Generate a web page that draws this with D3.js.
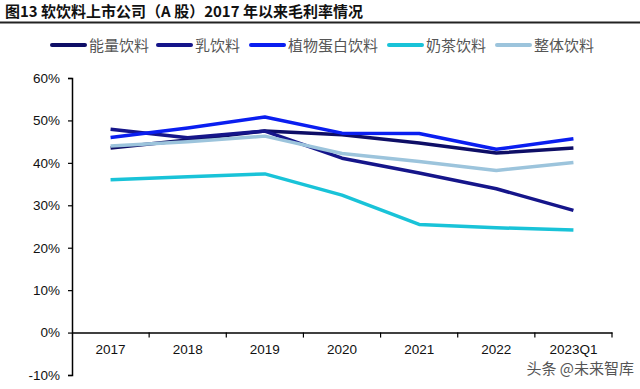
<!DOCTYPE html>
<html lang="zh">
<head>
<meta charset="utf-8">
<title>软饮料上市公司毛利率</title>
<script src="https://cdn.jsdelivr.net/npm/d3@7"></script>
<style>
body { margin: 0; background: #fff; }
svg { display: block; }
</style>
</head>
<body>
<div id="chart"></div>
<script>
var w = 640, h = 389;

// data (gross margin, %)
var categories = ["2017", "2018", "2019", "2020", "2021", "2022", "2023Q1"];
var seriesNames = ["能量饮料", "乳饮料", "植物蛋白饮料", "奶茶饮料", "整体饮料"];
var energy = [43.5, 45.4, 47.5, 46.6, 44.7, 42.3, 43.5];
var dairy = [47.9, 45.9, 47.5, 41.1, 37.6, 33.9, 28.8];
var plant = [46.0, 48.2, 50.8, 47.0, 46.9, 43.2, 45.7];
var milkTea = [36.0, 36.7, 37.4, 32.4, 25.5, 24.7, 24.2];
var total = [44.0, 45.0, 46.3, 42.2, 40.3, 38.2, 40.1];
var yTicks = [-10, 0, 10, 20, 30, 40, 50, 60];

var seriesValues = [energy, dairy, plant, milkTea, total];
var colors = ["#0e0e66", "#15158a", "#0a1ef0", "#19c3d8", "#9cc4dc"];

var svg = d3.select("#chart").append("svg")
  .attr("width", w)
  .attr("height", h);

// title + rule
svg.append("text")
  .attr("x", 5).attr("y", 17)
  .attr("font-family", "Noto Sans CJK SC")
  .attr("font-weight", "bold")
  .attr("font-size", "15px")
  .attr("fill", "#111")
  .text("图13 软饮料上市公司（A 股）2017 年以来毛利率情况");
svg.append("line")
  .attr("x1", 0).attr("x2", w).attr("y1", 22.5).attr("y2", 22.5)
  .attr("stroke", "#222").attr("stroke-width", 2);

// scales
var x = d3.scaleBand().domain(categories).range([72, 612]);
var y = d3.scaleLinear().domain([-10, 60]).range([375, 78]);

// y axis
var yAxis = d3.axisLeft(y)
  .tickValues(yTicks)
  .tickSize(4)
  .tickFormat(function(d) { return d + "%"; });
var gy = svg.append("g").attr("transform", "translate(72,0)").call(yAxis);
gy.select(".domain").attr("stroke", "#000").attr("stroke-width", 1.5);
gy.selectAll(".tick line").attr("stroke", "#000").attr("stroke-width", 1.2);
gy.selectAll(".tick text")
  .attr("x", -12)
  .attr("font-family", "Liberation Sans, Arial")
  .attr("font-size", "13.5px")
  .attr("fill", "#111");

// x axis at 0%
var xAxis = d3.axisBottom(x).tickSize(0).tickPadding(12);
var gx = svg.append("g").attr("transform", "translate(0," + y(0) + ")").call(xAxis);
gx.select(".domain").attr("stroke", "#000").attr("stroke-width", 1.5);
gx.selectAll(".tick text")
  .attr("font-family", "Liberation Sans, Arial")
  .attr("font-size", "13.5px")
  .attr("fill", "#111");
// band boundary ticks
gx.selectAll(".bound")
  .data(categories)
  .enter()
  .append("line")
  .attr("x1", function(d) { return x(d) + x.bandwidth(); })
  .attr("x2", function(d) { return x(d) + x.bandwidth(); })
  .attr("y1", 0).attr("y2", 5)
  .attr("stroke", "#000").attr("stroke-width", 1.2);

// lines
var line = d3.line()
  .x(function(d, i) { return x(categories[i]) + x.bandwidth() / 2; })
  .y(function(d) { return y(d); });

svg.selectAll(".series")
  .data(seriesValues)
  .enter()
  .append("path")
  .attr("d", line)
  .attr("fill", "none")
  .attr("stroke", function(d, i) { return colors[i]; })
  .attr("stroke-width", 3.5)
  .attr("stroke-linejoin", "round");

// legend
var legendX = [52, 158, 251, 389, 497];
var lg = svg.selectAll(".legend")
  .data(seriesNames)
  .enter()
  .append("g")
  .attr("transform", function(d, i) { return "translate(" + legendX[i] + ",45)"; });
lg.append("line")
  .attr("x1", 0).attr("x2", 33).attr("y1", 0).attr("y2", 0)
  .attr("stroke", function(d, i) { return colors[i]; })
  .attr("stroke-width", 4)
  .attr("stroke-linecap", "round");
lg.append("text")
  .attr("x", 37).attr("y", 5.5)
  .attr("font-family", "Noto Sans CJK SC")
  .attr("font-size", "15px")
  .attr("fill", "#555")
  .text(function(d) { return d; });

// watermark
svg.append("text")
  .attr("x", 634).attr("y", 374)
  .attr("text-anchor", "end")
  .attr("font-family", "Noto Sans CJK SC")
  .attr("font-size", "15px")
  .attr("fill", "#555")
  .text("头条 @未来智库");
</script>
</body>
</html>
